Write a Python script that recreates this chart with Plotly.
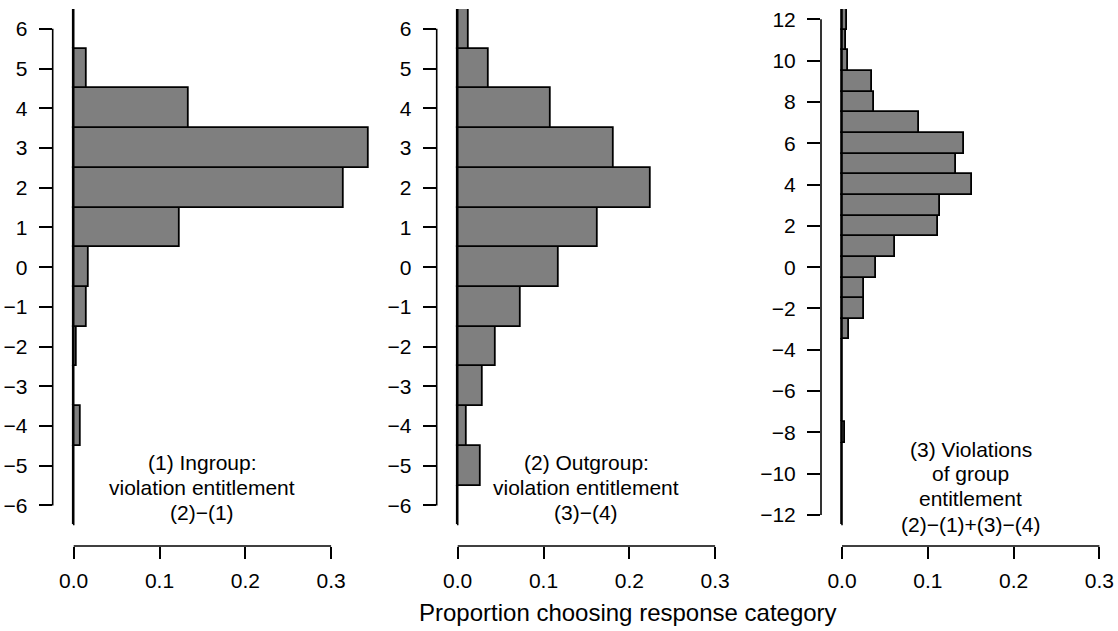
import plotly.graph_objects as go

W, H = 1118, 631

# Response categories (difference scores) and proportion choosing each
ingroup_cats = list(range(-6, 7))
ingroup_vals = [0, 0, 0.008, 0, 0.004, 0.0155, 0.017, 0.124, 0.3144, 0.3435, 0.134, 0.0155, 0]

outgroup_cats = list(range(-6, 7))
outgroup_vals = [0, 0.0268, 0.0105, 0.0295, 0.0443, 0.0735, 0.118, 0.1632, 0.2254, 0.1815,
                 0.1088, 0.0357, 0.0128]

combined_cats = list(range(-12, 13))
combined_vals = [0, 0, 0, 0, 0.0039, 0, 0, 0, 0, 0.0078, 0.026, 0.026, 0.0397, 0.0622,
                 0.1124, 0.1144, 0.152, 0.1334, 0.1424, 0.0899, 0.037, 0.0346, 0.007,
                 0.0043, 0.006]

x_ticks = [0.0, 0.1, 0.2, 0.3]
x_ticktext = ["0.0", "0.1", "0.2", "0.3"]
y_ticks_small = list(range(-6, 7))
y_ticks_large = list(range(-12, 13, 2))

panel_labels = [
    ["(1) Ingroup:", "violation entitlement", "(2)\u2212(1)"],
    ["(2) Outgroup:", "violation entitlement", "(3)\u2212(4)"],
    ["(3) Violations", "of group", "entitlement", "(2)\u2212(1)+(3)\u2212(4)"],
]
x_title = "Proportion choosing response category"

FONT = "Liberation Sans, Arial, Helvetica, sans-serif"
BAR_FILL = "#7f7f7f"
LW = 1.6
BAR_LW = 1.8

# layout geometry (pixels)
PX_PER_UNIT = 858.0
zero_px = [73.7, 457.7, 842.0]
left_pad = 21.0
x_upper = [0.36, 0.36, 0.32]
plot_top, plot_bot = 8.0, 526.0
xaxis_px = 546.7

def px_x(p):
    return p / W

def px_y(p):
    return 1 - p / H

panels = [
    (ingroup_cats, ingroup_vals, y_ticks_small),
    (outgroup_cats, outgroup_vals, y_ticks_small),
    (combined_cats, combined_vals, y_ticks_large),
]

fig = go.Figure()
shapes = []
annotations = []
layout = dict(
    width=W, height=H,
    margin=dict(l=0, r=0, t=0, b=0),
    paper_bgcolor="white", plot_bgcolor="white",
    showlegend=False,
    bargap=0,
    font=dict(family=FONT, size=21, color="black"),
)

label_rows = [
    [462.7, 487.7, 513.5],
    [462.7, 487.7, 513.5],
    [449.5, 474.5, 499.5, 525.0],
]

for i, (cats, vals, yt) in enumerate(panels):
    n = i + 1
    xa = "x" if n == 1 else f"x{n}"
    ya = "y" if n == 1 else f"y{n}"
    xkey = "xaxis" if n == 1 else f"xaxis{n}"
    ykey = "yaxis" if n == 1 else f"yaxis{n}"

    fig.add_trace(go.Bar(
        x=vals, y=cats, orientation="h", width=1.0,
        marker=dict(color=BAR_FILL, line=dict(color="black", width=BAR_LW)),
        xaxis=xa, yaxis=ya, hoverinfo="skip",
    ))

    x_lo = -left_pad / PX_PER_UNIT
    dom_l = zero_px[i] - left_pad
    dom_r = zero_px[i] + x_upper[i] * PX_PER_UNIT
    ylo, yhi = cats[0] - 0.5, cats[-1] + 0.5

    layout[xkey] = dict(
        domain=[px_x(dom_l), min(1.0, px_x(dom_r))],
        range=[x_lo, x_upper[i]],
        anchor="free", position=px_y(xaxis_px),
        tickvals=x_ticks, ticktext=x_ticktext,
        ticks="outside", ticklen=12, tickwidth=LW, tickcolor="black",
        ticklabelstandoff=4,
        showline=False, showgrid=False, zeroline=False,
        tickfont=dict(family=FONT, size=21, color="black"),
        fixedrange=True,
    )
    layout[ykey] = dict(
        domain=[px_y(plot_bot), px_y(plot_top)],
        range=[ylo, yhi],
        anchor=xa,
        tickvals=yt,
        ticks="outside", ticklen=13, tickwidth=LW, tickcolor="black",
        ticklabelstandoff=7,
        showline=False, showgrid=False, zeroline=False,
        tickfont=dict(family=FONT, size=21, color="black"),
        fixedrange=True,
    )

    # vertical reference line at zero
    shapes.append(dict(type="line", xref=xa, x0=0, x1=0,
                       yref=f"{ya} domain", y0=0, y1=1,
                       line=dict(color="black", width=LW), layer="above"))
    # y axis line spanning the tick range
    shapes.append(dict(type="line", xref=f"{xa} domain", x0=0, x1=0,
                       yref=ya, y0=yt[0], y1=yt[-1],
                       line=dict(color="black", width=LW)))
    # x axis line spanning the tick range
    shapes.append(dict(type="line", xref=xa, x0=x_ticks[0], x1=x_ticks[-1],
                       yref="paper", y0=px_y(xaxis_px), y1=px_y(xaxis_px),
                       line=dict(color="black", width=LW)))

    for text, ypx in zip(panel_labels[i], label_rows[i]):
        annotations.append(dict(
            text=text, xref=xa, x=0.15, yref="paper", y=px_y(ypx),
            xanchor="center", yanchor="middle", showarrow=False,
            font=dict(family=FONT, size=21, color="black"),
        ))

annotations.append(dict(
    text=x_title, xref="paper", x=px_x(627.5), yref="paper", y=px_y(613),
    xanchor="center", yanchor="middle", showarrow=False,
    font=dict(family=FONT, size=24, color="black"),
))

layout["shapes"] = shapes
layout["annotations"] = annotations
fig.update_layout(**layout)

fig.write_html("out.html")
